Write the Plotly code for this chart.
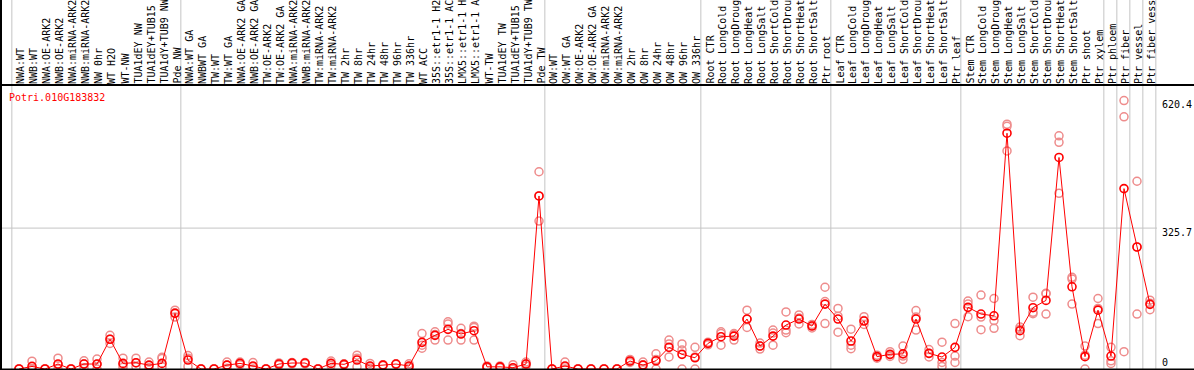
import plotly.graph_objects as go

# ---------------- data ----------------
gene_id = "Potri.010G183832"

categories = [
    "NWA:WT", "NWB:WT", "NWA:OE-ARK2", "NWB:OE-ARK2", "NWA:miRNA-ARK2", "NWB:miRNA-ARK2",
    "NW 0hr", "WT H2O", "WT-NW", "TUA1dEY NW", "TUA1dEY+TUB15 NW", "TUA1dY+TUB9 NW", "Pde NW",
    "NWA:WT GA", "NWBWT GA", "TW:WT", "TW:WT GA", "NWA:OE-ARK2 GA", "NWB:OE-ARK2 GA",
    "TW:OE-ARK2", "TW:OE-ARK2 GA", "NWA:miRNA-ARK2", "NWB:miRNA-ARK2", "TW:miRNA-ARK2",
    "TW:miRNA-ARK2", "TW 2hr", "TW 8hr", "TW 24hr", "TW 48hr", "TW 96hr", "TW 336hr", "WT ACC",
    "35S::etr1-1 H2O", "35S::etr1-1 ACC", "LMX5::etr1-1 H2O", "LMX5::etr1-1 ACC", "WT-TW",
    "TUA1dEY TW", "TUA1dEY+TUB15 TW", "TUA1dY+TUB9 TW", "Pde TW",
    "OW:WT", "OW:WT GA", "OW:OE-ARK2", "OW:OE-ARK2 GA", "OW:miRNA-ARK2", "OW:miRNA-ARK2",
    "OW 2hr", "OW 8hr", "OW 24hr", "OW 48hr", "OW 96hr", "OW 336hr",
    "Root CTR", "Root LongCold", "Root LongDrought", "Root LongHeat", "Root LongSalt",
    "Root ShortCold", "Root ShortDrought", "Root ShortHeat", "Root ShortSalt", "Ptr root",
    "Leaf CTR", "Leaf LongCold", "Leaf LongDrought", "Leaf LongHeat", "Leaf LongSalt",
    "Leaf ShortCold", "Leaf ShortDrought", "Leaf ShortHeat", "Leaf ShortSalt", "Ptr leaf",
    "Stem CTR", "Stem LongCold", "Stem LongDrought", "Stem LongHeat", "Stem LongSalt",
    "Stem ShortCold", "Stem ShortDrought", "Stem ShortHeat", "Stem ShortSalt",
    "Ptr shoot", "Ptr xylem", "Ptr phloem", "Ptr fiber", "Ptr vessel", "Ptr fiber vessel",
]

mean_values = [
    0, 6, 0, 11.5, 0, 11.5, 11.5, 68.6, 13, 14.6, 9, 13, 128.6,
    20.8, 0, 0, 9, 13, 6.9, 0, 11.5, 13.8, 13.8, 0, 13, 10.8, 20.8, 6.9, 9, 11.5, 6.9, 61.6,
    77.8, 91.6, 80.9, 88.5, 5, 5, 3, 11.5, 400,
    0, 6.9, 0, 0, 0, 0, 18.5, 9, 19, 50, 33.9, 26,
    59.3, 74.6, 76, 115.5, 53, 76, 101.6, 115.5, 99.3, 150,
    115.5, 64.7, 110.9, 28.5, 33.9, 35, 115.5, 36.2, 27.7, 50,
    142.5, 127, 123, 545, 88.5, 141.7, 158.6, 489, 190,
    28.5, 136, 30, 417, 282, 149.4,
]

replicates = [
    [0, 0, 0], [18, 0, 0], [0, 0, 0], [25, 10, 0], [0, 0, 0], [19, 12, 3],
    [23, 11, 0], [78, 69, 59], [25, 10, 4], [25, 14, 5], [16, 8, 3], [27, 24, 5], [136, 130, 120],
    [31, 25, 6], [0, 0, 0], [0, 0, 0], [16, 9, 2], [16, 13, 10], [15, 5, 0],
    [0, 0, 0], [14, 11, 9], [15, 14, 12], [15, 14, 12], [0, 0, 0],
    [18.5, 13, 8], [12, 11, 9], [32, 25, 5], [13, 6, 2], [10, 9, 8], [12, 11, 11], [12, 6, 3], [82, 55, 48],
    [86, 80, 67], [109, 104, 67], [94, 82, 67], [99, 96, 67], [7, 5, 3],
    [7, 5, 3], [10, 0, 0], [16, 12, 7], [456, 400, 342],
    [0, 0, 0], [16, 5, 0], [0, 0, 0], [0, 0, 0], [0, 0, 0], [0, 0, 0],
    [22, 18, 15], [16, 10, 0], [35, 22, 0], [67, 58, 28], [58, 44, 0], [50, 28, 0],
    [62, 60, 56], [86, 82, 55], [82, 79, 67], [136, 115, 96], [60, 53, 46],
    [90, 83, 55], [132, 90, 84], [125, 118, 104], [103, 100, 95], [189, 156, 105],
    [140, 122, 85], [92, 55, 47], [121, 112, 103], [32, 28, 25], [40, 33, 29],
    [53, 30, 22], [135, 120, 90], [45, 36, 28], [62, 15, 6], [105, 30, 15],
    [157, 150, 121], [171, 120, 91], [163, 112, 94], [566, 561, 504], [97, 92, 77],
    [166, 131, 128], [175, 174, 127], [539, 524, 406], [212, 208, 150],
    [53, 32, 0], [163, 140, 105], [50, 19, 13], [620.4, 583, 40], [434, 282, 127], [159, 152, 137],
]

group_breaks = [0, 13, 41, 53, 63, 73, 84, 85, 86, 87, 88]
y_ticks = [620.4, 325.7, 0]

# ---------------- geometry ----------------
W, H = 1194, 370
ML, MR, MT, MB = 1, 37, 85, 1
PW, PH = W - ML - MR, H - MT - MB
X0_PX, STEP_PX = 19, 13          # pixel of first category, pixel spacing
x_range = [(ML - X0_PX) / STEP_PX, (W - MR - X0_PX) / STEP_PX]
Y_MAX = 656.5
FONT = "DejaVu Sans Mono"


def py(px):
    """figure pixel (from top) -> paper y"""
    return (H - MB - px) / PH


def pxx(px):
    """figure pixel (from left) -> paper x"""
    return (px - ML) / PW


xs = list(range(len(categories)))
rep_x, rep_y = [], []
for i, reps in enumerate(replicates):
    for v in reps:
        rep_x.append(i)
        rep_y.append(v)

fig = go.Figure()
fig.add_trace(go.Scatter(
    x=rep_x, y=rep_y, mode="markers",
    marker=dict(symbol="circle-open", size=8, color="rgb(238,140,140)", line=dict(width=1.5)),
    hoverinfo="skip", showlegend=False,
))
fig.add_trace(go.Scatter(
    x=xs, y=mean_values, mode="lines+markers",
    line=dict(color="#ff0000", width=1),
    marker=dict(symbol="circle-open", size=8, color="#ff0000", line=dict(width=1.6)),
    showlegend=False,
))

shapes = []
# vertical grey separators spanning the full height
for b in group_breaks:
    shapes.append(dict(type="line", xref="x", yref="paper", x0=b - 0.55, x1=b - 0.55,
                       y0=py(H), y1=py(0), line=dict(color="#c4c4c4", width=1), layer="below"))
# horizontal grey grid at middle tick
shapes.append(dict(type="line", xref="paper", yref="y", x0=pxx(0), x1=1, y0=y_ticks[1], y1=y_ticks[1],
                   line=dict(color="#c4c4c4", width=1), layer="below"))
# black frame lines
shapes.append(dict(type="line", xref="paper", yref="paper", x0=pxx(0), x1=pxx(W), y0=py(85), y1=py(85),
                   line=dict(color="black", width=2)))
shapes.append(dict(type="line", xref="paper", yref="paper", x0=pxx(0), x1=pxx(W), y0=py(369.5), y1=py(369.5),
                   line=dict(color="black", width=2)))
shapes.append(dict(type="line", xref="paper", yref="paper", x0=pxx(1), x1=pxx(1), y0=py(H), y1=py(0),
                   line=dict(color="black", width=2)))

annotations = []
for i, lab in enumerate(categories):
    annotations.append(dict(
        x=i, xref="x", y=py(84), yref="paper", text=lab, textangle=-90,
        xanchor="center", yanchor="bottom", xshift=2, showarrow=False,
        font=dict(family=FONT, size=10, color="black"), borderpad=0, borderwidth=0,
    ))

annotations.append(dict(
    x=pxx(9), xref="paper", y=py(97), yref="paper", text=gene_id, xanchor="left", yanchor="middle",
    showarrow=False, font=dict(family=FONT, size=10, color="#ff0000"), borderpad=0, borderwidth=0,
))

for v in y_ticks:
    lab = f"{v:g}" if v != 0 else "0"
    annotations.append(dict(
        x=pxx(1162), xref="paper", y=v, yref="y", text=lab, xanchor="left", yanchor="middle",
        yshift=(-4 if v != 0 else 7), showarrow=False,
        font=dict(family=FONT, size=10, color="black"), borderpad=0, borderwidth=0,
    ))

fig.update_layout(
    width=W, height=H,
    margin=dict(l=ML, r=MR, t=MT, b=MB, pad=0),
    paper_bgcolor="white", plot_bgcolor="white",
    xaxis=dict(range=x_range, showgrid=False, zeroline=False, showticklabels=False, showline=False, fixedrange=True),
    yaxis=dict(range=[0, Y_MAX], showgrid=False, zeroline=False, showticklabels=False, showline=False, fixedrange=True),
    shapes=shapes, annotations=annotations, showlegend=False,
)

fig.write_html(
    "out.html",
    config={"displayModeBar": False},
    post_script="document.body.style.margin='0';document.body.style.overflow='hidden';",
)
